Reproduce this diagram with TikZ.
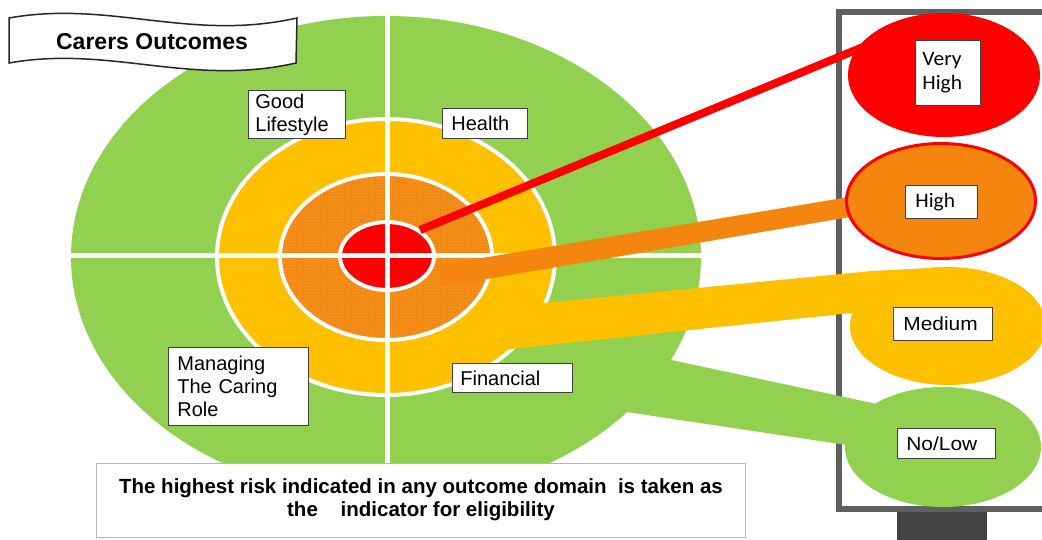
\documentclass[tikz,border=0pt]{standalone}
\usepackage{fontspec}
\setmainfont{Liberation Sans}
\newfontfamily\calib[FakeStretch=1.05]{Carlito}
\newfontfamily\widesans[FakeStretch=1.1]{Liberation Sans}
\usetikzlibrary{patterns}
\definecolor{gr}{RGB}{146,208,80}
\definecolor{yl}{RGB}{255,192,0}
\definecolor{org}{RGB}{244,134,16}
\definecolor{orgdot}{RGB}{255,172,60}
\definecolor{rd}{RGB}{255,0,0}
\definecolor{pan}{RGB}{95,95,95}
\definecolor{standc}{RGB}{68,68,68}
\definecolor{bbox}{RGB}{172,186,200}
\begin{document}
\begin{tikzpicture}[x=1pt,y=-1pt,
  lbl/.style={draw=black!75, line width=0.8pt, fill=white, anchor=north west,
    align=left, inner ysep=0pt, font=\fontsize{20}{23}\selectfont},
  rlbl/.style={lbl, font=\widesans\fontsize{19}{22}\selectfont},
  clbl/.style={lbl, font=\calib\fontsize{20.5}{24}\selectfont},
  ring/.style={draw=white, line width=4pt}]
\useasboundingbox (0,0) rectangle (1042,540);
\fill[white] (0,0) rectangle (1042,540);
\clip (0,0) rectangle (1042,540);

% named points
\coordinate (ctr) at (386,257);
\coordinate (vhc) at (944,75);
\coordinate (hc) at (941,201);
\coordinate (mc) at (948,326);
\coordinate (lc) at (943,447);

% panel and stand
\draw[pan, line width=6pt] (838.5,12) rectangle (1080,509);
\fill[standc] (897,512) rectangle (987,545);

% green target and tail to No/Low
\fill[gr] (ctr) ellipse [x radius=315, y radius=241];
\coordinate (g1) at (620,349);
\coordinate (g2) at (900,409);
\coordinate (g3) at (900,453);
\coordinate (g4) at (600,408);
\fill[gr] (g1) -- (g2) -- (g3) -- (g4) -- cycle;
\fill[gr] (lc) ellipse [x radius=98, y radius=60];

% rings
\filldraw[fill=yl, ring] (ctr) ellipse [x radius=169, y radius=138];
\fill[org] (ctr) ellipse [x radius=106, y radius=83];
\fill[pattern=crosshatch dots, pattern color=orgdot] (ctr) ellipse [x radius=106, y radius=83];
\draw[ring] (ctr) ellipse [x radius=106, y radius=83];
\filldraw[fill=rd, ring] (387,256) ellipse [x radius=47, y radius=34];

% white cross
\begin{scope}
\clip (ctr) ellipse [x radius=315, y radius=241];
\draw[white, line width=5pt] (387,0) -- (387,540);
\draw[white, line width=5pt] (0,256) -- (1042,256);
\end{scope}

% yellow band to Medium
\coordinate (y1) at (482,309);
\coordinate (y2) at (872,271);
\coordinate (y3) at (948,267);
\coordinate (y4) at (948,326);
\coordinate (y5) at (880,310);
\coordinate (y6) at (482,352);
\fill[yl] (y1) -- (y2) -- (y3) -- (y4) -- (y5) -- (y6) -- cycle;
\fill[yl] (mc) ellipse [x radius=98, y radius=59];

% orange band to High
\coordinate (o1) at (440,265);
\coordinate (o2) at (885,191);
\coordinate (o3) at (885,211);
\coordinate (o4) at (440,287);
\fill[org] (o1) -- (o2) -- (o3) -- (o4) -- cycle;
\filldraw[fill=org, draw=rd, line width=3pt] (hc) ellipse [x radius=94.5, y radius=57.5];

% red line to Very High
\coordinate (r1) at (420,230);
\coordinate (r2) at (880,40);
\draw[rd, line width=8pt] (r1) -- (r2);
\fill[rd] (vhc) ellipse [x radius=96, y radius=62];

% banner
\draw[black!85, line width=1.5pt, fill=white]
  (9,18) .. controls (110,0) and (190,42) .. (297,18)
  -- (296,63) .. controls (190,87) and (110,45) .. (9,63) -- cycle;
\node[font=\bfseries\fontsize{23}{26}\selectfont] (title) at (152,42) {Carers Outcomes};

% domain labels
\node[lbl, minimum width=97pt, minimum height=48pt, text width=83pt, inner xsep=7pt] (good) at (248,90) {Good\\Lifestyle};
\node[lbl, minimum width=85pt, minimum height=30pt, text width=67pt, inner xsep=9pt] (health) at (442,108) {Health};
\node[lbl, minimum width=140pt, minimum height=78pt, text width=122pt, inner xsep=9pt] (manage) at (168,347) {Managing\\The Caring\\Role};
\node[lbl, minimum width=120pt, minimum height=29pt, text width=104pt, inner xsep=8pt] (fin) at (452,363) {Financial};

% risk labels
\node[clbl, minimum width=65pt, minimum height=65pt, text width=51pt, inner xsep=7pt] (vhigh) at (915,40) {Very\\High};
\node[clbl, minimum width=72pt, minimum height=33pt, text width=52pt, inner xsep=10pt] (high) at (905,185) {High};
\node[rlbl, minimum width=99pt, minimum height=33pt, text width=79pt, inner xsep=10pt] (med) at (893,307) {Medium};
\node[rlbl, minimum width=98pt, minimum height=30pt, text width=80pt, inner xsep=9pt] (low) at (897,428) {No/Low};

% bottom note
\node[draw=bbox, line width=1pt, fill=white, anchor=north west, minimum width=649pt,
  minimum height=74pt, align=center, inner sep=0pt,
  font=\bfseries\fontsize{20.5}{23.5}\selectfont] (note) at (96,463)
  {The highest risk indicated in any outcome domain\ \ is taken as\\the\ \ \ \ indicator for eligibility\rule[-6pt]{0pt}{0pt}};
\end{tikzpicture}
\end{document}
